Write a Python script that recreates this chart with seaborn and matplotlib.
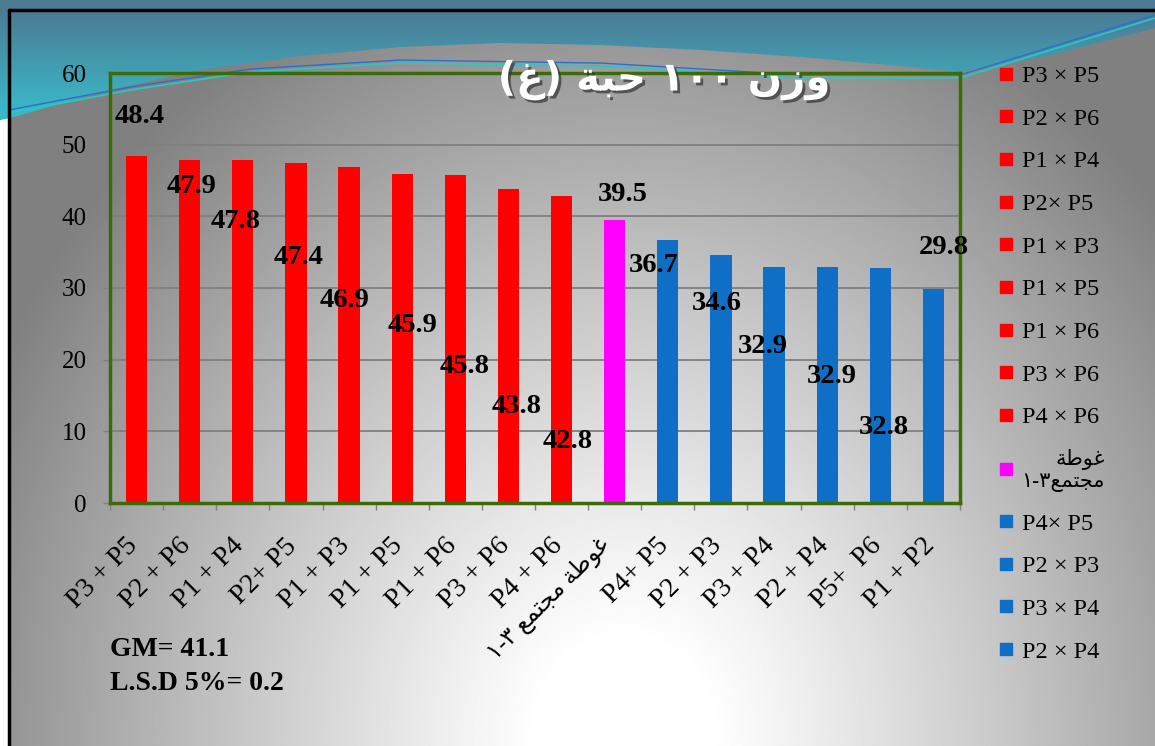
import numpy as np
import pandas as pd
import seaborn as sns
import matplotlib.pyplot as plt
import matplotlib.patheffects as pe
from matplotlib.lines import Line2D
from matplotlib.transforms import ScaledTranslation

# Arabic text is written in shaped presentation forms, already in visual order
AR_TICK = "١-٣ \ufeca\ufee4\ufe98\ufea0\ufee3 \ufe94\ufec3\ufeee\ufecf"
AR_LEGEND = "\ufe94\ufec3\ufeee\ufecf\n١-٣\ufeca\ufee4\ufe98\ufea0\ufee3"
TITLE = "(\ufecd) \ufe94\ufe92\ufea3 ١٠٠ \ufee5\ufeaf\ufeed"

categories = ["P3 + P5", "P2 + P6", "P1 + P4", "P2+ P5", "P1 + P3", "P1 + P5",
              "P1 + P6", "P3 + P6", "P4 + P6", AR_TICK, "P4+ P5", "P2 + P3",
              "P3 + P4", "P2 + P4", "P5+  P6", "P1 + P2"]
values = [48.4, 47.9, 47.8, 47.4, 46.9, 45.9, 45.8, 43.8, 42.8, 39.5,
          36.7, 34.6, 32.9, 32.9, 32.8, 29.8]
groups = ["hybrid"] * 9 + ["check"] + ["low"] * 6
legend_labels = ["P3 \u00d7 P5", "P2 \u00d7 P6", "P1 \u00d7 P4", "P2\u00d7 P5",
                 "P1 \u00d7 P3", "P1 \u00d7 P5", "P1 \u00d7 P6", "P3 \u00d7 P6",
                 "P4 \u00d7 P6", AR_LEGEND, "P4\u00d7 P5", "P2 \u00d7 P3",
                 "P3 \u00d7 P4", "P2 \u00d7 P4"]
yticks = [0, 10, 20, 30, 40, 50, 60]
stats = ["GM= 41.1", "L.S.D 5%= 0.2"]

# where each value label sits, relative to its bar (x in slots, y in axis units)
label_dx = [0.06, 0.04, -0.13, 0.04, -0.09, 0.19, 0.17, 0.15, 0.12, 0.16,
            -0.26, -0.07, -0.22, 0.08, 0.07, 0.19]
label_dy = [5.5, -3.7, -8.5, -13.1, -18.6, -21.2, -26.8, -30.4, -34.15, 3.5,
            -3.5, -6.7, -11.0, -15.3, -22.2, 5.8]

palette = {"hybrid": "#ff0000", "check": "#ff00ff", "low": "#0f6fc6"}

sns.set_theme(style="white")
plt.rcParams["font.family"] = ["Liberation Serif", "DejaVu Sans"]
plt.rcParams["text.color"] = "black"
plt.rcParams["xtick.labelcolor"] = "black"
plt.rcParams["ytick.labelcolor"] = "black"

W, H = 1155, 746
fig = plt.figure(figsize=(W / 100, H / 100), dpi=100, facecolor="white")

# ---- slide background ----
bg = fig.add_axes([0, 0, 1, 1], zorder=0)
bg.set_xlim(0, W)
bg.set_ylim(H, 0)
bg.axis("off")
yy, xx = np.mgrid[0:H, 0:W]
d = np.hypot((xx - 620) / 600, (yy - 740) / 700)
shade = np.clip(1.05 - 0.45 * d ** 1.15, 0.5, 1.0)
bg.imshow(shade, cmap="gray", vmin=0, vmax=1, extent=(9, W, H, 10), aspect="auto")

edge_x = [0, 10, 100, 200, 300, 400, 500, 600, 700, 800, 900, 960, 1050, 1155]
edge_y = [120, 118, 92, 70, 56, 47, 43, 45, 50, 57, 66, 72, 55, 28]
edge = np.interp(np.arange(W), edge_x, edge_y)
t = np.clip((yy - 10) / 100, 0, 1)[..., None]
teal = np.array([0.30, 0.48, 0.58]) * (1 - t) + np.array([0.23, 0.72, 0.78]) * t
alpha = np.clip(edge[None, :] - yy, 0, 1)
bg.imshow(np.dstack([teal, alpha]), extent=(0, W, H, 0), aspect="auto")

sx = np.arange(9, W)
line_x = [9, 130, 250, 400, 600, 800, 960, 1155]
line_y = [113, 90, 72, 63, 66, 78, 78, 18]
bg.plot(sx, np.interp(sx, line_x, line_y), color="#27c9c0", lw=1.2)
bg.plot(sx, np.interp(sx, line_x, np.array(line_y) - 3), color="#2a6fd0", lw=1.0)
bg.plot([9, 9], [H, 10], color="black", lw=2.5)
bg.plot([9, W], [10, 10], color="black", lw=2.5)

# ---- chart ----
ax = fig.add_axes([110 / W, 1 - 503 / H, 850 / W, 430 / H], zorder=1)
ax.patch.set_alpha(0)
df = pd.DataFrame({"cat": categories, "val": values, "grp": groups})
sns.barplot(data=df, x="cat", y="val", hue="grp", palette=palette, order=categories,
            dodge=False, width=0.4, saturation=1, legend=False, linewidth=0,
            edgecolor="none", ax=ax)

ax.set_xlim(-0.5, len(categories) - 0.5)
ax.set_ylim(0, 60)
ax.set_yticks(yticks)
ax.set_xlabel("")
ax.set_ylabel("")
ax.yaxis.grid(True, color="#7f7f7f", lw=1.3)
ax.set_axisbelow(True)
for s in ax.spines.values():
    s.set_color("#3b6b08")
    s.set_linewidth(2.5)

ax.tick_params(axis="y", direction="out", length=5, color="#808080", width=1,
               labelsize=18, pad=12, left=True)
ax.set_xticks(np.arange(-0.5, len(categories)), minor=True)
ax.tick_params(axis="x", which="minor", direction="out", length=5, color="#808080",
               bottom=True)
ax.tick_params(axis="x", which="major", length=0, labelsize=20, pad=22)
shift = ScaledTranslation(6 / 100, 0, fig.dpi_scale_trans)
for lab in ax.get_xticklabels():
    lab.set_rotation(45)
    lab.set_ha("right")
    lab.set_va("top")
    if lab.get_text() == AR_TICK:
        lab.set_fontsize(17)
    else:
        lab.set_transform(lab.get_transform() + shift)

for i, v in enumerate(values):
    ax.text(i + label_dx[i], v + label_dy[i], f"{v:.1f}", ha="center", va="center",
            fontsize=20.5, fontweight="bold", color="black")

fig.text(664 / W, 1 - 80 / H, TITLE, ha="center", va="center", fontsize=29,
         fontweight="bold", color="white", family=["DejaVu Sans"],
         path_effects=[pe.withSimplePatchShadow(offset=(2, -2), shadow_rgbFace="#333333",
                                                alpha=0.7)])

handles = [Line2D([0], [0], marker="s", ls="none", markersize=9,
                  markerfacecolor=palette[g], markeredgecolor=palette[g])
           for g in groups[:len(legend_labels)]]
leg = fig.legend(handles, legend_labels, loc="upper left",
                 bbox_to_anchor=(996 / W, 1 - 65 / H), frameon=False, fontsize=17.5,
                 labelspacing=0.85, handlelength=0.8, handletextpad=0.25,
                 borderpad=0, borderaxespad=0)
leg.get_texts()[9].set_multialignment("right")
leg.get_texts()[9].set_fontsize(15)

fig.text(110 / W, 1 - 650 / H, stats[0], fontsize=20, fontweight="bold", va="center")
fig.text(110 / W, 1 - 684 / H, stats[1], fontsize=20, fontweight="bold", va="center")

fig.savefig("out.png", dpi=100)
